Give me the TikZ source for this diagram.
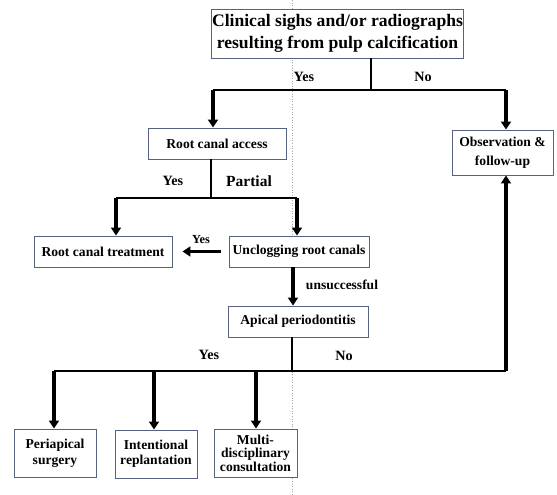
\documentclass[tikz,border=0pt]{standalone}
\usepackage{fontspec}
\setmainfont{Liberation Serif}
\usetikzlibrary{arrows.meta}
\definecolor{boxline}{RGB}{85,98,128}
\begin{document}
\begin{tikzpicture}[x=1pt,y=-1pt,
  box/.style={draw=boxline,line width=0.9pt,fill=white,inner sep=1pt,align=center,font=\bfseries\fontsize{13.6}{16}\selectfont},
  link/.style={line width=1.8pt},
  bigarrow/.style={line width=3.6pt,-{Triangle[width=10pt,length=8pt]}},
  lbl/.style={font=\bfseries\fontsize{14.2}{16}\selectfont,inner sep=0pt},
  slbl/.style={font=\bfseries\fontsize{12.3}{14}\selectfont,inner sep=0pt}]
\useasboundingbox (0,0) rectangle (557,495);
\draw[gray!70,dotted,line width=0.6pt] (292,0) -- (292,495);
% nodes
\node[box,minimum width=201pt,minimum height=49pt,font=\bfseries\fontsize{17.6}{22}\selectfont] (top) at (337.5,33.5) {Clinical sighs and/or radiographs\\resulting from pulp calcification};
\node[box,minimum width=138pt,minimum height=31pt] (rca) at (217,143.5) {Root canal access};
\node[box,minimum width=101pt,minimum height=45pt,font=\bfseries\fontsize{13.6}{18.5}\selectfont] (obs) at (502.5,152.5) {Observation \&\\follow-up};
\node[box,minimum width=138pt,minimum height=31pt] (rct) at (103,251.5) {Root canal treatment};
\node[box,minimum width=140pt,minimum height=31pt] (unc) at (299,251.5) {Unclogging root canals};
\node[box,minimum width=140pt,minimum height=31pt] (api) at (298,321.5) {Apical periodontitis};
\node[box,minimum width=82pt,minimum height=48pt] (peri) at (55,453) {Periapical\\surgery};
\node[box,minimum width=82pt,minimum height=48pt] (inte) at (156,454) {\raisebox{3pt}{\begin{tabular}{@{}c@{}}Intentional\\[-1pt]replantation\end{tabular}}};
\node[box,minimum width=83pt,minimum height=48pt,font=\bfseries\fontsize{13.6}{13.5}\selectfont] (multi) at (255.5,453) {Multi-\\disciplinary\\consultation};
% junction coordinates
\coordinate (j1) at (371,90);
\coordinate (j1l) at (213,90);
\coordinate (j1r) at (506,90);
\coordinate (j2) at (211,198);
\coordinate (j2l) at (116,198);
\coordinate (j2r) at (297,198);
\coordinate (j3) at (292,371);
\coordinate (j3a) at (54,371);
\coordinate (j3b) at (154,371);
\coordinate (j3c) at (256,371);
\coordinate (j3r) at (506,371);
% connectors
\draw[link] (top.south -| j1) -- (j1);
\draw[link] (j1l) -- (j1r);
\draw[bigarrow] (j1l) -- (j1l |- rca.north);
\draw[bigarrow] (j1r) -- (j1r |- obs.north);
\draw[link] (rca.south -| j2) -- (j2);
\draw[link] (j2l) -- (j2r);
\draw[bigarrow] (j2l) -- (j2l |- rct.north);
\draw[bigarrow] (j2r) -- (j2r |- unc.north);
\draw[bigarrow] ([xshift=-8pt]unc.west) -- ([xshift=10pt]rct.east);
\draw[bigarrow] (unc.south -| 293,0) -- (api.north -| 293,0);
\draw[link] (api.south -| j3) -- (j3);
\draw[link] (j3a) -- (j3r);
\draw[bigarrow] (j3a) -- (j3a |- peri.north);
\draw[bigarrow] (j3b) -- (j3b |- inte.north);
\draw[bigarrow] (j3c) -- (j3c |- multi.north);
\draw[bigarrow] (j3r) -- (j3r |- obs.south);
% labels
\node[lbl] (l1) at (304,77) {Yes};
\node[lbl] (l2) at (423,77) {No};
\node[lbl] (l3) at (173,181) {Yes};
\node[lbl,font=\bfseries\fontsize{15.5}{17}\selectfont] (l4) at (249,181) {Partial};
\node[slbl] (l5) at (201,240) {Yes};
\node[slbl,font=\bfseries\fontsize{13.5}{15}\selectfont] (l6) at (342,285) {unsuccessful};
\node[lbl] (l7) at (209,355) {Yes};
\node[lbl] (l8) at (344,356) {No};
\end{tikzpicture}
\end{document}
